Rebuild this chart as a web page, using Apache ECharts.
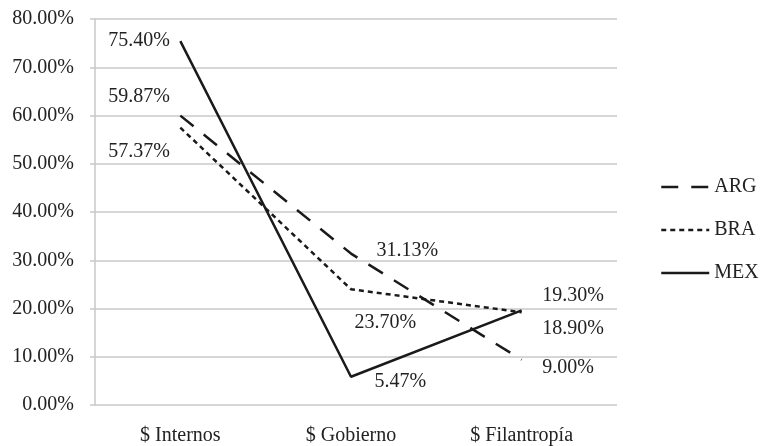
<!DOCTYPE html>
<html>
<head>
<meta charset="utf-8">
<script src="https://cdn.jsdelivr.net/npm/echarts@6/dist/echarts.min.js"></script>
<style>
  html, body { margin: 0; padding: 0; background: #fff; }
  #chart { width: 761px; height: 446px; }
</style>
</head>
<body>
<div id="chart"></div>
<script>
// Funding sources by country (share of total)
var categories = ['$ Internos', '$ Gobierno', '$ Filantropía'];
var seriesNames = ['ARG', 'BRA', 'MEX'];
var argValues = [59.87, 31.13, 9.00];
var braValues = [57.37, 23.70, 18.90];
var mexValues = [75.40, 5.47, 19.30];
var yTicks = { min: 0, max: 80, step: 10 };

var FONT = '"Liberation Serif", "DejaVu Serif", serif';
var FS = 20;
var TEXT = '#222222';
var GRID = '#c9c9c9';

// label placement per series and point: [position, distance, offsetX, offsetY]
var labelPlacement = {
  ARG: [['left', 10, 0, -19], ['right', 25, 0, -3], ['right', 20, 0, 8]],
  BRA: [['left', 10, 0, 24], ['right', 3, 0, 34], ['right', 20, 0, 16]],
  MEX: [['left', 10, 0, 0], ['right', 23, 0, 5], ['right', 20, 0, -15]]
};
var lineTypes = { ARG: [17, 13], BRA: [5, 4], MEX: 'solid' };

function buildData(name, values) {
  return values.map(function (v, i) {
    var p = labelPlacement[name][i];
    return {
      value: v,
      label: { position: p[0], distance: p[1], offset: [p[2], p[3]] }
    };
  });
}

var valueLists = { ARG: argValues, BRA: braValues, MEX: mexValues };

var series = seriesNames.map(function (name) {
  return {
    name: name,
    type: 'line',
    xAxisIndex: 1,
    yAxisIndex: 1,
    data: buildData(name, valueLists[name]),
    symbol: 'circle',
    symbolSize: 1,
    showSymbol: true,
    lineStyle: { color: '#1a1a1a', width: 2.5, type: lineTypes[name] },
    itemStyle: { color: '#1a1a1a', opacity: 0 },
    label: {
      show: true,
      fontFamily: FONT,
      fontSize: FS,
      color: TEXT,
      opacity: 1,
      formatter: function (p) { return p.value.toFixed(2) + '%'; }
    },
    emphasis: { disabled: true },
    animation: false
  };
});

var chart = echarts.init(document.getElementById('chart'), null, { renderer: 'canvas' });
chart.setOption({
  backgroundColor: '#ffffff',
  animation: false,
  grid: [
    // background grid: value gridlines across the full plot width
    { left: 95, right: 144, top: 19, bottom: 41 },
    // data grid: category bands
    { left: 95, right: 154, top: 19, bottom: 41 }
  ],
  xAxis: [
    { gridIndex: 0, type: 'value', show: false, min: 0, max: 1 },
    {
      gridIndex: 1,
      type: 'category',
      data: categories,
      boundaryGap: true,
      axisLine: { show: false },
      axisTick: { show: false },
      axisLabel: { fontFamily: FONT, fontSize: FS, color: TEXT, margin: 23 }
    }
  ],
  yAxis: [
    {
      gridIndex: 0,
      type: 'value',
      min: yTicks.min,
      max: yTicks.max,
      interval: yTicks.step,
      axisLine: { show: true, lineStyle: { color: GRID, width: 1.5 } },
      axisTick: { show: true, length: 5, lineStyle: { color: GRID, width: 1.5 } },
      splitLine: { show: true, lineStyle: { color: GRID, width: 1.5 } },
      axisLabel: {
        fontFamily: FONT, fontSize: FS, color: TEXT, margin: 21,
        formatter: function (v) { return v.toFixed(2) + '%'; }
      }
    },
    {
      gridIndex: 1,
      type: 'value',
      min: yTicks.min,
      max: yTicks.max,
      interval: yTicks.step,
      show: false
    }
  ],
  legend: {
    orient: 'vertical',
    left: 655,
    top: 172,
    itemWidth: 48,
    itemHeight: 14,
    itemGap: 23,
    data: seriesNames,
    lineStyle: { width: 2.5 },
    textStyle: { fontFamily: FONT, fontSize: FS, color: TEXT },
    selectedMode: false
  },
  series: series
});
</script>
</body>
</html>
